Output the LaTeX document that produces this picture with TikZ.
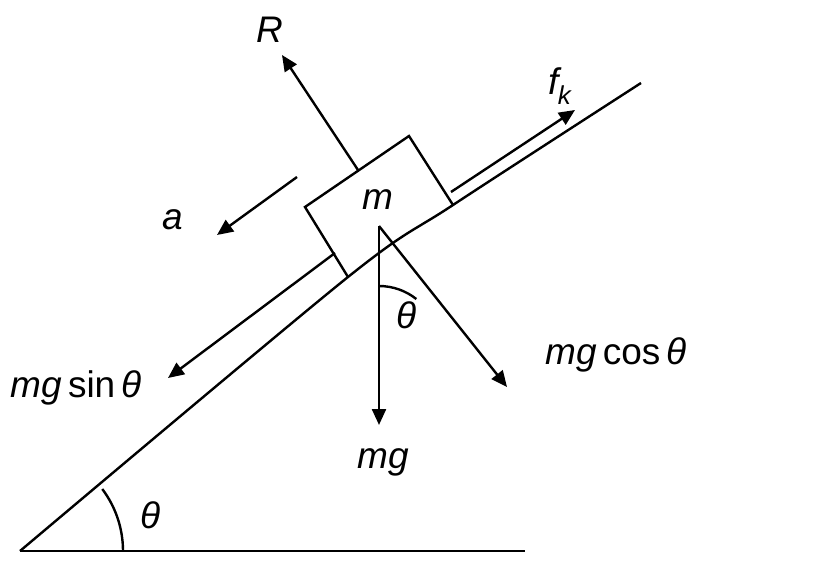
\documentclass[tikz,border=0pt]{standalone}
\usepackage{fontspec}
\setmainfont{Liberation Sans}
\usetikzlibrary{arrows.meta}

\begin{document}
\begin{tikzpicture}[
  x=1pt,y=-1pt,
  line width=2.4pt,
  lbl/.style={font=\fontsize{37}{44}\selectfont\itshape,inner sep=0pt},
  arr/.style={-{Triangle[length=16pt,width=14pt]}}
]
\useasboundingbox (0,0) rectangle (815,567);

% Ground and incline
\draw (20,551) -- (525,551);
\draw plot[smooth] coordinates {(20,551) (348,277) (453,205) (641,83)};

% Block
\draw (348,277) -- (305,207) -- (409,136) -- (453,205);
\node[lbl] (m) at (378,200) {m};
\coordinate (c) at (379,226);

% Forces
\draw[arr] (358,170) -- (282,55);
\node[lbl] (R) at (270,30) {R};
\draw[arr] (451,192) -- (575,110);
\node[lbl] (fk) at (560,86) {f\textsubscript{\kern-1pt k}};
\draw[arr] (297,177) -- (217,235);
\node[lbl] (a) at (173,220) {a};
\draw[arr] (335,253) -- (168,378);
\node[lbl] (ms) at (76,388) {mg\,\upshape sin\,\itshape θ};
\draw[arr] (c) -- (379,425);
\node[lbl] (mg) at (383,462) {mg};
\draw[arr] (c) -- (507,387);
\node[lbl] (mc) at (616,355) {mg\,\upshape cos\,\itshape θ};

% Angles
\draw (379,286) arc[start angle=-90,end angle=-51.5,radius=60];
\node[lbl] (t1) at (407,315) {θ};
\draw (123,551) arc[start angle=0,end angle=-37,radius=103];
\node[lbl] (t2) at (151,515) {θ};
\end{tikzpicture}
\end{document}
